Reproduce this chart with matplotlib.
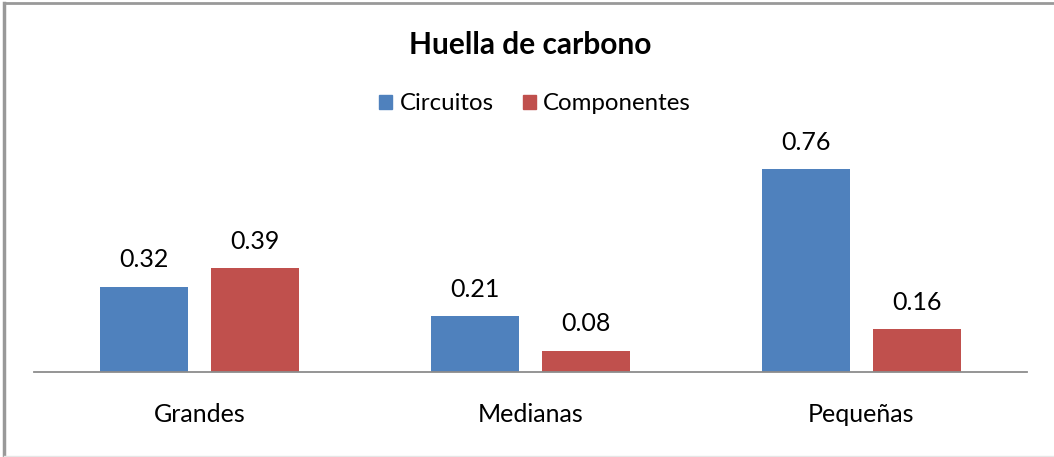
#!/usr/bin/env python3
"""Huella de carbono: grouped bars, Circuitos vs Componentes."""
import matplotlib

matplotlib.use("Agg")
import matplotlib.pyplot as plt
import numpy as np
from matplotlib.patches import Patch

categories = ["Grandes", "Medianas", "Pequeñas"]
circuitos = [0.32, 0.21, 0.76]
componentes = [0.39, 0.08, 0.16]

BLUE = "#4f81bd"
RED = "#c0504d"

plt.rcParams["font.family"] = ["Lato", "DejaVu Sans"]

W, H = 1054, 457
fig = plt.figure(figsize=(W / 100, H / 100), dpi=100)

# plot area: x 34..1027 px, baseline at y=372, 267 px per unit
left, right = 34, 1027
base = 372
top = 140
ax = fig.add_axes([left / W, 1 - base / H, (right - left) / W, (base - top) / H])

x = np.arange(len(categories))
bw = 0.267
off = 0.167
b1 = ax.bar(x - off, circuitos, bw, color=BLUE, label="Circuitos")
b2 = ax.bar(x + off, componentes, bw, color=RED, label="Componentes")

ax.set_xlim(-0.5, len(categories) - 0.5)
ax.set_ylim(0, (base - top) / 267)

for bars, vals in ((b1, circuitos), (b2, componentes)):
    for rect, v in zip(bars, vals):
        ax.annotate(f"{v:.2f}", (rect.get_x() + rect.get_width() / 2, v),
                    xytext=(0, 11), textcoords="offset points",
                    ha="center", va="bottom", fontsize=18)

for s in ("top", "right", "left"):
    ax.spines[s].set_visible(False)
ax.spines["bottom"].set_color("#8c8c8c")
ax.spines["bottom"].set_linewidth(1.3)
ax.set_yticks([])
ax.set_xticks(x)
ax.set_xticklabels(categories, fontsize=18)
ax.tick_params(axis="x", length=0, pad=22)

fig.text(530 / W, 1 - 45 / H, "Huella de carbono", ha="center", va="center",
         fontsize=21.5, fontweight="bold")

handles = [Patch(color=BLUE, label="Circuitos"), Patch(color=RED, label="Componentes")]
fig.legend(handles=handles, ncol=2, frameon=False, loc="center",
           bbox_to_anchor=(535 / W, 1 - 104 / H), fontsize=17.3,
           handlelength=0.55, handleheight=0.55, handletextpad=0.3,
           columnspacing=1.2)

# chart border: darker on left/top, faint on bottom
fig.add_artist(plt.Line2D([4 / W, 4 / W], [0, 1 - 3 / H], color="#999999", lw=2.5))
fig.add_artist(plt.Line2D([4 / W, 1], [1 - 3 / H, 1 - 3 / H], color="#999999", lw=2.0))
fig.add_artist(plt.Line2D([4 / W, 1], [1.5 / H, 1.5 / H], color="#e6e6e6", lw=1.0))

fig.savefig("out.png", dpi=100)
